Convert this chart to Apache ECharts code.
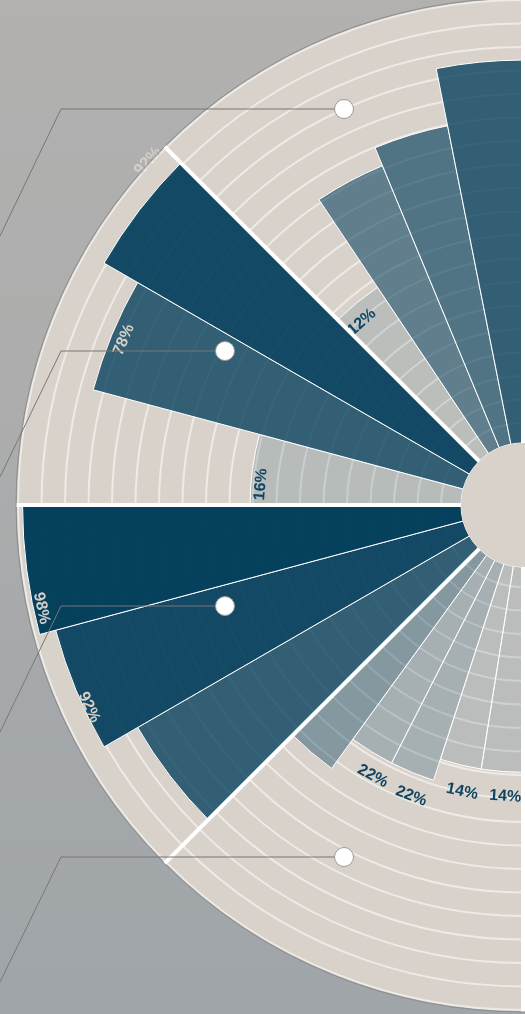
<!DOCTYPE html>
<html>
<head>
<meta charset="utf-8">
<script src="https://cdn.jsdelivr.net/npm/echarts@6/dist/echarts.min.js"></script>
<style>
html,body{margin:0;padding:0;}
body{background:linear-gradient(180deg,#b2b1b0 0%,#adadad 40%,#a4a8aa 72%,#a0a5a9 100%);}
#chart{width:525px;height:1014px;}
</style>
</head>
<body>
<div id="chart"></div>
<script>
// ---- data (each quadrant listed clockwise from its start angle) ----
const topCategories = ['T1', 'T2', 'T3', 'T4'];          // 135° -> 90°
const topValues = [12, 50, 57, 78];
const upperLeftCategories = ['U1', 'U2', 'U3'];          // 180° -> 135°
const upperLeftValues = [16, 78, 92];
const lowerLeftCategories = ['L1', 'L2', 'L3'];          // 225° -> 180°
const lowerLeftValues = [78, 92, 98];
const bottomCategories = ['B1', 'B2', 'B3', 'B4', 'B5']; // 270° -> 225°
const bottomValues = [14, 14, 22, 22, 35];

// callout anchors and leader paths (overlay grid units = px)
const calloutDots = [[344, 109], [225, 351], [225, 606], [344, 857]];
const calloutPaths = [
  [[0, 236], [61, 109], [344, 109]],
  [[0, 477], [61, 351], [225, 351]],
  [[0, 732], [61, 606], [225, 606]],
  [[0, 982], [61, 857], [344, 857]]
];

// ---- layout / style ----
const CX = 523, CY = 505, HOLE = 62, BAR_OUTER = 506, DISK = 505, RING_STEP = 23.5;
const NAVY = [0, 60, 90];
const ALPHA_STOPS = [[0, 0.08], [15, 0.14], [25, 0.27], [50, 0.555], [60, 0.66], [80, 0.78], [100, 1]];
const DARK_TEXT = '#0f4562', LIGHT_TEXT = '#d5cfc8';
const FONT = 'bold 16px "Liberation Sans", Arial, sans-serif';

function barFill(v) {
  let a = ALPHA_STOPS[ALPHA_STOPS.length - 1][1];
  for (let i = 1; i < ALPHA_STOPS.length; i++) {
    const [v0, a0] = ALPHA_STOPS[i - 1], [v1, a1] = ALPHA_STOPS[i];
    if (v <= v1) { a = a0 + (a1 - a0) * (v - v0) / (v1 - v0); break; }
  }
  return 'rgba(' + NAVY.join(',') + ',' + a.toFixed(3) + ')';
}

// label placement per bar: side (in/out of bar end), distance of text centre, tone, angular nudge (deg)
const quadrants = [
  { start: 135, end: 90, cats: topCategories, vals: topValues,
    labels: [{ side: 'in', d: 18, tone: 'dark', nudge: 2 }, null, null, null] },
  { start: 180, end: 135, cats: upperLeftCategories, vals: upperLeftValues,
    labels: [{ side: 'in', d: 10, tone: 'dark', nudge: 3 },
             { side: 'in', d: 13, tone: 'light', nudge: 0 },
             { side: 'out', d: 25, tone: 'light', nudge: -5 }] },
  { start: 225, end: 180, cats: lowerLeftCategories, vals: lowerLeftValues,
    labels: [null,
             { side: 'in', d: 5, tone: 'light', nudge: 2.5 },
             { side: 'in', d: 8, tone: 'light', nudge: 4.6 }] },
  { start: 270, end: 225, cats: bottomCategories, vals: bottomValues,
    labels: [{ side: 'out', d: 24.6, tone: 'dark', nudge: 1 },
             { side: 'out', d: 25.6, tone: 'dark', nudge: 1.5 },
             { side: 'out', d: 22.4, tone: 'dark', nudge: 1.5 },
             { side: 'out', d: 20.4, tone: 'dark', nudge: 2.5 },
             null] }
];

const polar = [], angleAxis = [], radiusAxis = [], series = [];

quadrants.forEach((q, i) => {
  polar.push({ center: [CX, CY], radius: [HOLE, BAR_OUTER] });
  angleAxis.push({ polarIndex: i, type: 'category', data: q.cats, startAngle: q.start, endAngle: q.end,
                   clockwise: true, show: false });
  radiusAxis.push({ polarIndex: i, type: 'value', min: -60, max: 100, show: false });
  series.push({
    type: 'custom', coordinateSystem: 'polar', polarIndex: i, z: 2, silent: true,
    encode: { radius: 0, angle: 1 },
    data: q.vals.map((v, j) => [v, j]),
    renderItem: function (params, api) {
      const v = api.value(0), j = api.value(1);
      const c = api.coord([v, j]);
      const bw = api.size([0, 1], [v, j])[1];
      const cs = params.coordSys;
      const a = c[3], r = c[2];
      const children = [{
        type: 'sector',
        shape: { cx: cs.cx, cy: cs.cy, r0: cs.r0, r: r, startAngle: -(a + bw / 2), endAngle: -(a - bw / 2) },
        style: { fill: barFill(v), stroke: '#ffffff', lineWidth: 1 }
      }];
      const ls = q.labels[params.dataIndex];
      if (ls) {
        let deg = a * 180 / Math.PI + ls.nudge;
        deg = ((deg % 360) + 360) % 360;
        const rad = deg * Math.PI / 180;
        const rl = ls.side === 'out' ? r + ls.d : r - ls.d;
        const rot = deg <= 180 ? deg - 90 : deg - 270;
        children.push({
          type: 'text',
          x: cs.cx + rl * Math.cos(rad),
          y: cs.cy - rl * Math.sin(rad),
          rotation: rot * Math.PI / 180,
          style: { text: v + '%', font: FONT, fill: ls.tone === 'dark' ? DARK_TEXT : LIGHT_TEXT,
                   align: 'center', verticalAlign: 'middle' }
        });
      }
      return { type: 'group', children: children };
    }
  });
});

// disk fill polar (index 4)
polar.push({ center: [CX, CY], radius: [0, DISK] });
angleAxis.push({ polarIndex: 4, type: 'value', min: 0, max: 360, startAngle: 90, show: false });
radiusAxis.push({
  polarIndex: 4, type: 'value', min: 0, max: 1, interval: 1, z: 0,
  axisLine: { show: false }, axisTick: { show: false }, axisLabel: { show: false },
  splitLine: { show: false },
  splitArea: { show: true, areaStyle: { color: ['#d8d2cb'] } }
});

// ring polar (index 5)
polar.push({ center: [CX, CY], radius: [0, DISK] });
angleAxis.push({ polarIndex: 5, type: 'value', min: 0, max: 360, startAngle: 90, show: false });
radiusAxis.push({
  polarIndex: 5, type: 'value', inverse: true, min: 0, max: DISK / RING_STEP, interval: 1, z: 1,
  axisLine: { show: false }, axisTick: { show: false }, axisLabel: { show: false },
  splitLine: { show: true, lineStyle: { color: '#eeeae5', width: 2 } },
  splitArea: { show: false }
});

// quadrant separators + outline (index 6)
polar.push({ center: [CX, CY], radius: [0, 507] });
angleAxis.push({
  polarIndex: 6, type: 'value', min: 0, max: 360, interval: 45, startAngle: 90, clockwise: true, z: 3,
  axisLine: { show: true, lineStyle: { color: '#8e8e8e', width: 1 } },
  axisTick: { show: false }, axisLabel: { show: false },
  splitLine: { show: true, lineStyle: { color: '#ffffff', width: 4 } }
});
radiusAxis.push({ polarIndex: 6, type: 'value', show: false });

// centre hole
series.push({
  type: 'pie', center: [CX, CY], radius: [0, HOLE], z: 5, silent: true,
  label: { show: false }, labelLine: { show: false },
  itemStyle: { color: '#d8d2cb' }, emphasis: { disabled: true },
  data: [{ value: 1 }]
});

// callouts
series.push({
  type: 'lines', coordinateSystem: 'cartesian2d', polyline: true, silent: true, z: 6,
  lineStyle: { color: '#777777', width: 1, opacity: 1 },
  data: calloutPaths.map(p => ({ coords: p }))
});
series.push({
  type: 'scatter', coordinateSystem: 'cartesian2d', silent: true, z: 7, symbolSize: 19,
  itemStyle: { color: '#ffffff', borderColor: '#9a9a9a', borderWidth: 1, opacity: 1 },
  data: calloutDots
});

const chart = echarts.init(document.getElementById('chart'));
chart.setOption({
  animation: false,
  backgroundColor: 'transparent',
  grid: { left: 0, right: 0, top: 0, bottom: 0 },
  xAxis: { type: 'value', min: 0, max: 525, show: false },
  yAxis: { type: 'value', min: 0, max: 1014, inverse: true, show: false },
  polar: polar,
  angleAxis: angleAxis,
  radiusAxis: radiusAxis,
  series: series
});
</script>
</body>
</html>
